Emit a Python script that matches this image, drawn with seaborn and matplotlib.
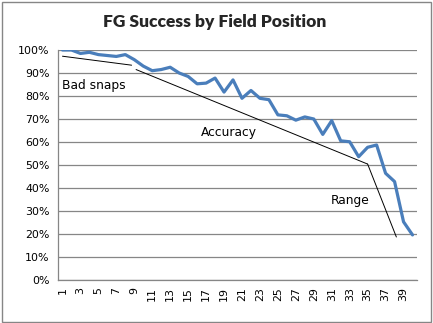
import matplotlib
matplotlib.use("Agg")
import matplotlib.pyplot as plt
import seaborn as sns
import pandas as pd
from matplotlib.patches import Rectangle
from matplotlib.ticker import PercentFormatter

# Data
field_position = list(range(1, 41))
success = [1.000, 1.000, 0.985, 0.990, 0.980, 0.976, 0.972, 0.980, 0.958, 0.930,
           0.910, 0.915, 0.925, 0.900, 0.885, 0.853, 0.856, 0.878, 0.817, 0.870,
           0.790, 0.824, 0.790, 0.784, 0.718, 0.714, 0.695, 0.709, 0.700, 0.633,
           0.693, 0.605, 0.601, 0.536, 0.577, 0.587, 0.464, 0.428, 0.253, 0.196]

# Hand-drawn trend annotations (x in field position, y as fraction)
bad_snaps_x = [1.0, 8.7]
bad_snaps_y = [0.973, 0.934]
accuracy_x = [9.2, 35.0]
accuracy_y = [0.915, 0.504]
range_x = [35.0, 38.2]
range_y = [0.504, 0.187]

labels = ["Bad snaps", "Accuracy", "Range"]
label_x = [1.0, 16.4, 30.9]
label_y = [0.845, 0.640, 0.346]

title = "FG Success by Field Position"

df = pd.DataFrame({"pos": field_position, "success": success})

sns.set_theme(style="white")
plt.rcParams["font.family"] = ["DejaVu Sans"]

fig = plt.figure(figsize=(4.33, 3.23), dpi=100)
ax = fig.add_axes([58 / 433, 1 - 280 / 323, 359 / 433, 230 / 323])

sns.lineplot(data=df, x="pos", y="success", ax=ax, color="#4A7EBB", linewidth=2.3)

for xs, ys in [(bad_snaps_x, bad_snaps_y), (accuracy_x, accuracy_y), (range_x, range_y)]:
    ax.plot(xs, ys, color="black", linewidth=0.7)

for t, x, y in zip(labels, label_x, label_y):
    ax.text(x, y, t, fontsize=8.8, ha="left", va="center", color="black")

ax.set_xlim(0.5, 40.5)
ax.set_ylim(0, 1.0)
ax.set_yticks([i / 10 for i in range(11)])
ax.yaxis.set_major_formatter(PercentFormatter(1.0, decimals=0))
ax.set_xticks(field_position[::2])
ax.set_xticklabels([str(v) for v in field_position[::2]], rotation=90)
ax.tick_params(axis="both", length=0, labelsize=7.9, colors="black")
ax.tick_params(axis="x", pad=5)
ax.tick_params(axis="y", pad=6)
ax.set_xlabel("")
ax.set_ylabel("")
ax.grid(axis="y", color="#868686", linewidth=0.9)
ax.set_axisbelow(True)
for s in ["top", "right"]:
    ax.spines[s].set_visible(False)
for s in ["left", "bottom"]:
    ax.spines[s].set_color("#868686")
    ax.spines[s].set_linewidth(0.9)

fig.text(215 / 433, 1 - 22 / 323, title, ha="center", va="center",
         fontsize=12.5, fontweight="heavy", family=["Lato", "DejaVu Sans"])

fig.patches.append(Rectangle((1.5 / 433, 1.5 / 323), 429.5 / 433, 319.5 / 323,
                             transform=fig.transFigure, fill=False,
                             edgecolor="#868686", linewidth=1.0))

fig.savefig("out.png", dpi=100)
